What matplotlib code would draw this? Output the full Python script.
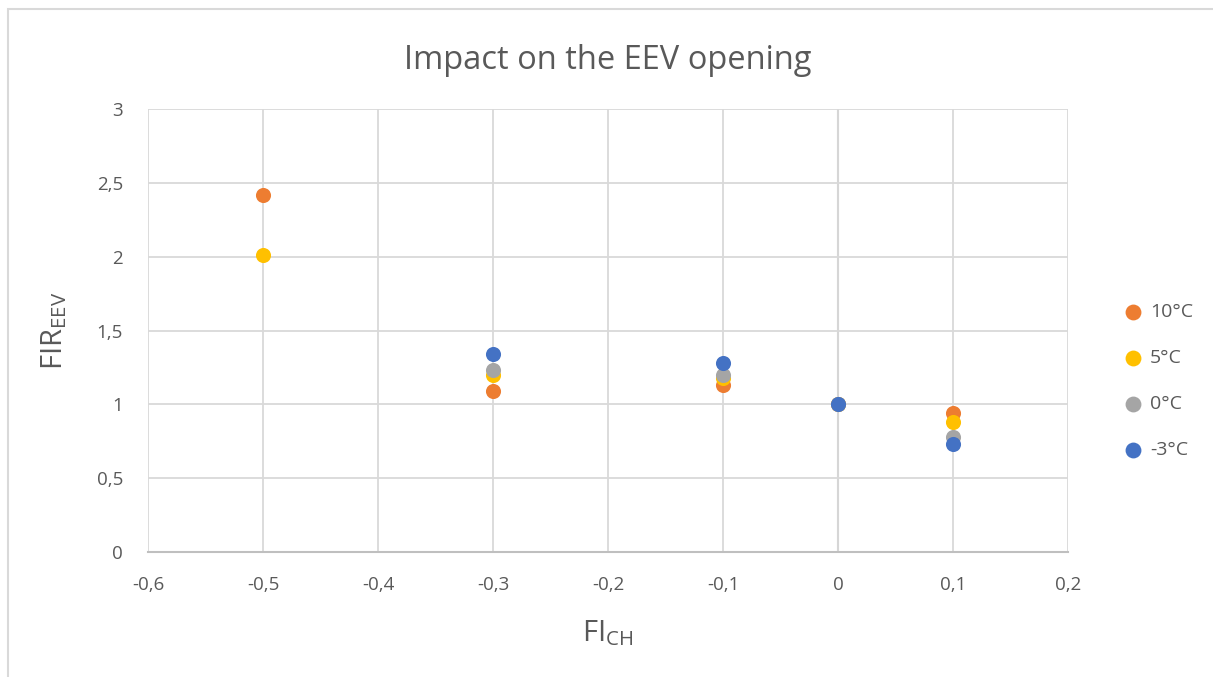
import numpy as np
import matplotlib.pyplot as plt
from matplotlib.patches import Rectangle
from matplotlib.ticker import FuncFormatter

# data
fi_ch = [-0.5, -0.3, -0.1, 0.0, 0.1]
fir_10 = [2.42, 1.09, 1.13, 1.00, 0.94]
fir_5 = [2.01, 1.20, 1.18, 1.00, 0.88]
fir_0 = [np.nan, 1.23, 1.20, 1.00, 0.78]
fir_m3 = [np.nan, 1.34, 1.28, 1.00, 0.73]
series_labels = ['10°C', '5°C', '0°C', '-3°C']
series_colors = ['#ED7D31', '#FFC000', '#A5A5A5', '#4472C4']

plt.rcParams['font.family'] = ['Open Sans', 'DejaVu Sans']
txt = '#595959'

fig = plt.figure(figsize=(12.13, 6.77), dpi=100)
# outer chart border
fig.patches.append(Rectangle((8 / 1213, -0.1), 1.2, 1 - 9 / 677 + 0.1, transform=fig.transFigure,
                             fill=False, edgecolor='#d9d9d9', linewidth=1.5))

ax = fig.add_axes([148 / 1213, 125 / 677, 920 / 1213, 443 / 677])

for ys, lab, col in zip([fir_10, fir_5, fir_0, fir_m3], series_labels, series_colors):
    ax.scatter(fi_ch, ys, s=118, color=col, label=lab, zorder=3, linewidths=0)


def comma(v, p):
    v = round(v, 2)
    if v == 0:
        return '0'
    return ('%g' % v).replace('.', ',')


ax.set_xlim(-0.6, 0.2)
ax.set_ylim(0, 3)
ax.set_xticks(np.arange(-0.6, 0.21, 0.1))
ax.set_yticks(np.arange(0, 3.01, 0.5))
ax.xaxis.set_major_formatter(FuncFormatter(comma))
ax.yaxis.set_major_formatter(FuncFormatter(comma))
ax.grid(True, color='#d9d9d9', linewidth=1.3, zorder=0)
ax.axvline(0, color='#bfbfbf', linewidth=1.5, zorder=1)
for s in ['top', 'right', 'left']:
    ax.spines[s].set_visible(False)
ax.spines['bottom'].set_color('#bfbfbf')
ax.spines['bottom'].set_linewidth(1.5)
ax.tick_params(length=0, labelsize=13.5, colors=txt)
ax.tick_params(axis='x', pad=17)
ax.tick_params(axis='y', pad=18)

ax.set_title('Impact on the EEV opening', fontsize=23.5, color=txt, pad=29)
ax.set_xlabel(r'FI$_{\mathregular{CH}}$', fontsize=21, color=txt, labelpad=18)
ax.set_ylabel(r'FIR$_{\mathregular{EEV}}$', fontsize=21, color=txt, labelpad=20)

leg = ax.legend(loc='center left', bbox_to_anchor=(1.03, 0.386), frameon=False,
                fontsize=14, labelcolor=txt, handletextpad=-0.1, labelspacing=1.45,
                markerscale=1.05)

fig.savefig('out.png', dpi=100)
